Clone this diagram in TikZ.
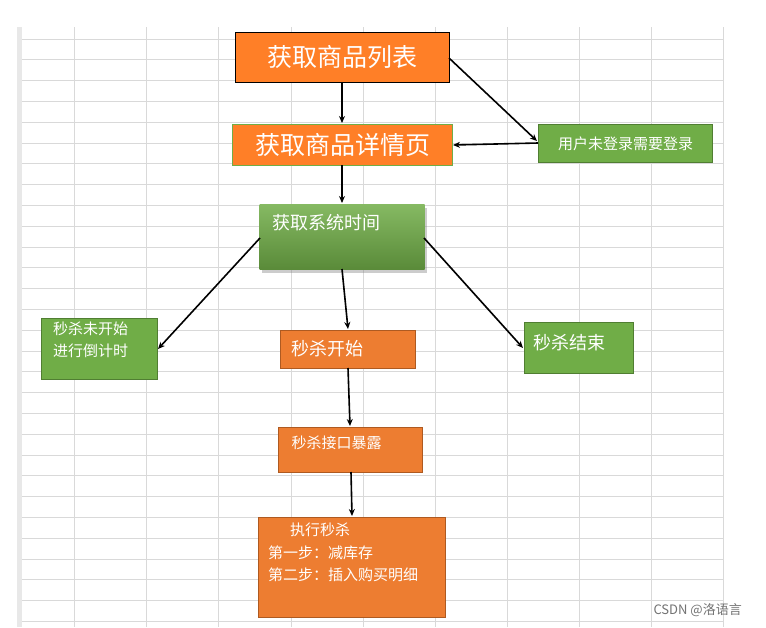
\documentclass[tikz,border=0pt]{standalone}
\usepackage{fontspec}
\setmainfont{Noto Sans CJK SC}
\usetikzlibrary{arrows.meta,shadows}
\definecolor{org}{HTML}{FF7F27}
\definecolor{org2}{HTML}{ED7D31}
\definecolor{orgb}{HTML}{AE5A21}
\definecolor{grn}{HTML}{70AD47}
\definecolor{grnb}{HTML}{507E32}
\definecolor{gridc}{HTML}{D9D9D9}
\begin{document}
\begin{tikzpicture}[x=1pt,y=-1pt,
 box/.style={draw,line width=1pt,text=white,inner sep=0pt},
 og/.style={box,fill=org2,draw=orgb,font=\fontsize{15}{20}\selectfont},
 gr/.style={box,fill=grn,draw=grnb,font=\fontsize{15}{20}\selectfont},
 arr/.style={-{Stealth[length=7pt,width=6pt]},line width=1.6pt,black}]
\useasboundingbox (0,0) rectangle (766,627);
\fill[white] (0,0) rectangle (766,627);
% grid
\fill[gridc!60] (17,27) rectangle (22,627);
\foreach \x in {74,146,218,291,363,435,507,579,651,723}
  \draw[gridc,line width=0.8pt] (\x,27) -- (\x,627);
\foreach \i in {0,...,28}
  \draw[gridc,line width=0.8pt] (22,39+20.8*\i) -- (723,39+20.8*\i);
\node[gr,anchor=north west,minimum width=174,minimum height=38] (u) at (538,124) {用户未登录需要登录};
\node[box,fill=org,draw=black,anchor=north west,minimum width=214,minimum height=50,font=\fontsize{25}{30}\selectfont] (a) at (235,32) {获取商品列表};
\node[box,fill=org,draw=grn,anchor=north west,minimum width=220,minimum height=41,font=\fontsize{25}{30}\selectfont] (b) at (232,124) {获取商品详情页};
\node[box,draw=none,top color=grn!85!white,bottom color=grn!80!black,anchor=north west,minimum width=165,minimum height=65,drop shadow={shadow xshift=2pt,shadow yshift=-3pt,opacity=0.4}] (c) at (259,204) {};
\node[text=white,anchor=west,font=\fontsize{18}{22}\selectfont] at (269,223) {获取系统时间};
\node[gr,anchor=north west,minimum width=116,minimum height=61,align=left] (d) at (41,318) {};
\node[text=white,anchor=north west,align=left,font=\fontsize{15}{22}\selectfont,inner sep=0pt] at (53,322) {秒杀未开始\\进行倒计时};
\node[og,anchor=north west,minimum width=135,minimum height=38] (e) at (280,330) {};
\node[text=white,anchor=west,font=\fontsize{18}{22}\selectfont] at (288,349) {秒杀开始};
\node[gr,anchor=north west,minimum width=109,minimum height=51] (f) at (524,322) {};
\node[text=white,anchor=west,font=\fontsize{18}{22}\selectfont] at (530,343) {秒杀结束};
\node[og,anchor=north west,minimum width=144,minimum height=45] (g) at (278,427) {};
\node[text=white,anchor=west,font=\fontsize{15}{20}\selectfont] at (288,443) {秒杀接口暴露};
\node[og,anchor=north west,minimum width=187,minimum height=100] (h) at (258,517) {};
\node[text=white,anchor=north west,align=left,font=\fontsize{15}{22.5}\selectfont,inner sep=0pt] at (268,523) {\hspace*{22pt}执行秒杀\\第一步：减库存\\第二步：插入购买明细};
\node[text=black!55,font=\fontsize{13}{15}\selectfont,anchor=west] at (650,610) {CSDN @洛语言};
% arrows
\draw[arr] (342,82) -- (342,123);
\draw[arr] (449,58) -- (537,141);
\draw[arr] (538,143) -- (453,145);
\draw[arr] (342,165) -- (342,203);
\draw[arr] (260,238) -- (158,349);
\draw[arr] (342,269) -- (348,329);
\draw[arr] (424,238) -- (523,348);
\draw[arr] (348,368) -- (350,426);
\draw[arr] (351,472) -- (352,516);
\end{tikzpicture}
\end{document}
